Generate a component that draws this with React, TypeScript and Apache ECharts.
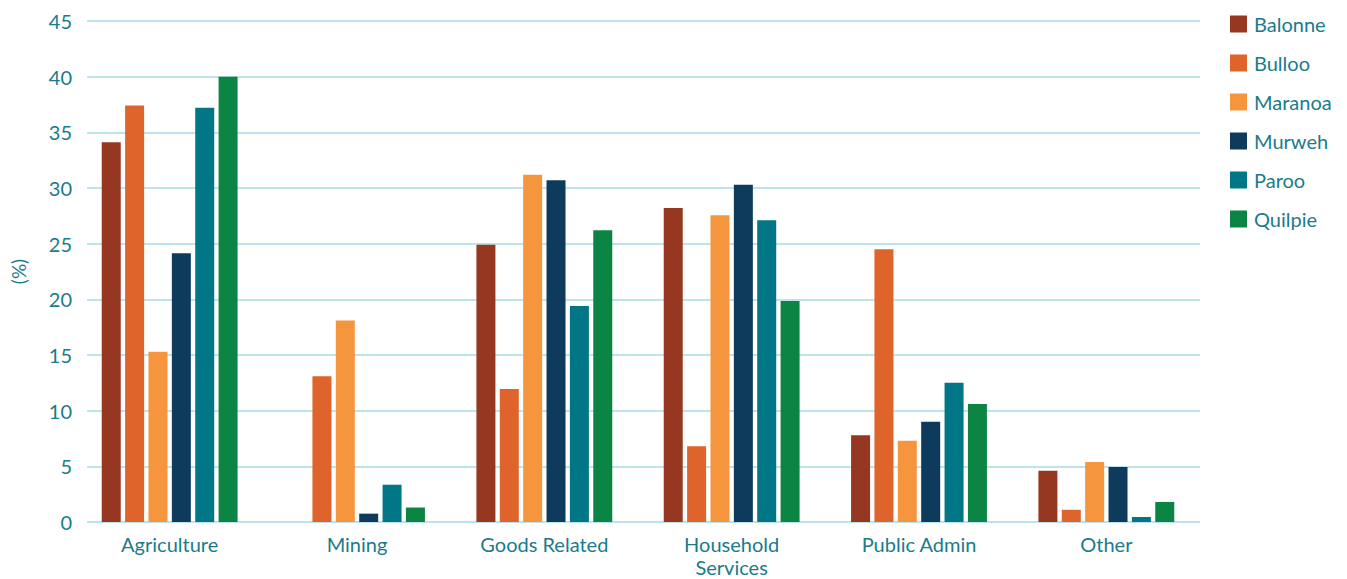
import React, { useEffect, useRef } from "react";
import * as echarts from "echarts";

const categories = ["Agriculture", "Mining", "Goods Related", "Household\nServices", "Public Admin", "Other"];
const balonne = [34.1, 0, 24.9, 28.2, 7.8, 4.6];
const bulloo = [37.4, 13.1, 11.95, 6.8, 24.5, 1.1];
const maranoa = [15.3, 18.1, 31.2, 27.55, 7.3, 5.4];
const murweh = [24.15, 0.75, 30.7, 30.3, 9.0, 4.95];
const paroo = [37.2, 3.35, 19.4, 27.1, 12.5, 0.45];
const quilpie = [40.0, 1.3, 26.2, 19.85, 10.6, 1.8];
const yTicks = { min: 0, max: 45, interval: 5 };

const seriesDefs = [
  { name: "Balonne", data: balonne, color: "#963821" },
  { name: "Bulloo", data: bulloo, color: "#de642b" },
  { name: "Maranoa", data: maranoa, color: "#f5963f" },
  { name: "Murweh", data: murweh, color: "#0e3a5c" },
  { name: "Paroo", data: paroo, color: "#007687" },
  { name: "Quilpie", data: quilpie, color: "#0b8444" },
];

const TEAL = "#1a7b8b";
const GRID = "#a9dbe4";
const FONT = "Lato, 'Noto Sans', sans-serif";

export default function App() {
  const ref = useRef<HTMLDivElement>(null);

  useEffect(() => {
    document.body.style.margin = "0";
    if (!ref.current) return;
    const chart = echarts.init(ref.current, undefined, { renderer: "svg" });
    chart.setOption({
      animation: false,
      textStyle: { fontFamily: FONT },
      grid: [
        // bars and labels
        { left: 76, right: 147, top: 21, bottom: 57, containLabel: false, outerBoundsMode: "none" },
        // gridlines, which begin slightly to the right of the plotting area
        { left: 87, right: 147, top: 21, bottom: 57, containLabel: false, outerBoundsMode: "none" },
      ],
      legend: {
        orient: "vertical",
        left: 1225,
        top: 9,
        itemWidth: 17,
        itemHeight: 17,
        itemGap: 19,
        icon: "rect",
        textStyle: { color: TEAL, fontSize: 20, fontFamily: FONT, padding: [0, 0, 0, 2] },
        data: seriesDefs.map((s) => s.name),
      },
      xAxis: [
        {
          type: "category",
          gridIndex: 0,
          data: categories,
          axisLine: { show: false },
          axisTick: { show: false },
          axisLabel: { color: TEAL, fontSize: 20, margin: 10, lineHeight: 23, fontFamily: FONT },
        },
        {
          type: "category",
          gridIndex: 1,
          data: categories,
          show: false,
        },
      ],
      yAxis: [
        {
          type: "value",
          gridIndex: 0,
          min: yTicks.min,
          max: yTicks.max,
          interval: yTicks.interval,
          name: "(%)",
          nameLocation: "middle",
          nameRotate: 90,
          nameGap: 48,
          nameTextStyle: { color: TEAL, fontSize: 19, fontFamily: FONT },
          axisLine: { show: false },
          axisTick: { show: false },
          axisLabel: { color: TEAL, fontSize: 20, margin: 4, fontFamily: FONT },
          splitLine: { show: false },
        },
        {
          type: "value",
          gridIndex: 1,
          min: yTicks.min,
          max: yTicks.max,
          interval: yTicks.interval,
          axisLine: { show: false },
          axisTick: { show: false },
          axisLabel: { show: false },
          splitLine: { show: true, lineStyle: { color: GRID, width: 1.5 } },
        },
      ],
      series: seriesDefs.map((s) => ({
        name: s.name,
        type: "bar",
        xAxisIndex: 0,
        yAxisIndex: 0,
        data: s.data,
        barWidth: 19,
        barGap: "23%",
        z: 3,
        itemStyle: { color: s.color },
      })),
    });
    return () => chart.dispose();
  }, []);

  return <div ref={ref} style={{ width: 1347, height: 579 }} />;
}
